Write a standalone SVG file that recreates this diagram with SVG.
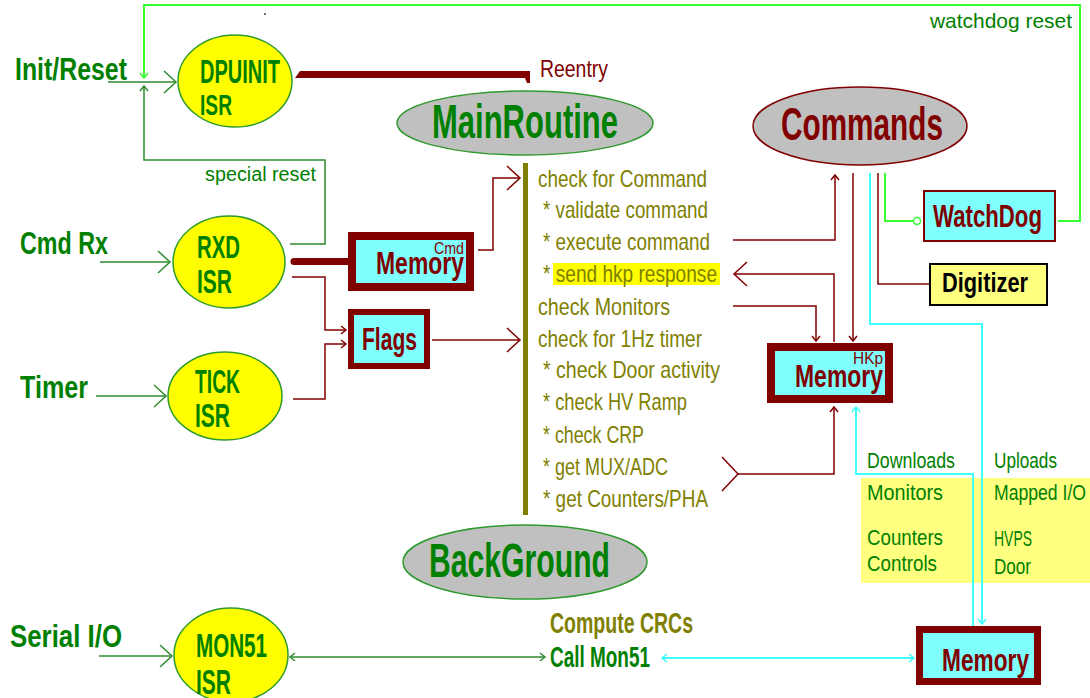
<svg xmlns="http://www.w3.org/2000/svg" width="1090" height="698" viewBox="0 0 1090 698">
  <style>
    text { font-family: "Liberation Sans Narrow", "Liberation Sans", Arial, sans-serif; }
    .b { font-weight: bold; }
    .g { fill: #008000; }
    .r { fill: #800000; }
    .o { fill: #808000; }
    .k { fill: #000000; }
    .isr { fill: #ffff00; stroke: #2e9a2e; stroke-width: 1.5; }
    .gray-g { fill: #c0c0c0; stroke: #2e9a2e; stroke-width: 1.5; }
    .gray-r { fill: #c0c0c0; stroke: #800000; stroke-width: 1.5; }
    .mem { fill: #80ffff; stroke: #800000; }
    .wg { fill: none; stroke: #2e8b2e; stroke-width: 1.5; }
    .wr { fill: none; stroke: #800000; stroke-width: 1.5; }
    .wc { fill: none; stroke: #40ffff; stroke-width: 2; }
    .wb { fill: none; stroke: #33ff33; stroke-width: 2; }
  </style>
  <defs>
    <marker id="bigG" markerUnits="userSpaceOnUse" viewBox="-14 -13 16 26" markerWidth="16" markerHeight="26" refX="0" refY="0" orient="auto">
      <path d="M-12,-11 L0,0 L-12,11" fill="none" stroke="#2e8b2e" stroke-width="1.5"/>
    </marker>
    <marker id="bigR" markerUnits="userSpaceOnUse" viewBox="-15 -14 17 28" markerWidth="17" markerHeight="28" refX="0" refY="0" orient="auto">
      <path d="M-13,-12 L0,0 L-13,12" fill="none" stroke="#800000" stroke-width="1.5"/>
    </marker>
    <marker id="smG" markerUnits="userSpaceOnUse" viewBox="-7 -6 9 12" markerWidth="9" markerHeight="12" refX="0" refY="0" orient="auto-start-reverse">
      <path d="M-5,-4 L0,0 L-5,4" fill="none" stroke="#2e8b2e" stroke-width="1.5"/>
    </marker>
    <marker id="smR" markerUnits="userSpaceOnUse" viewBox="-7 -6 9 12" markerWidth="9" markerHeight="12" refX="0" refY="0" orient="auto">
      <path d="M-5,-4 L0,0 L-5,4" fill="none" stroke="#800000" stroke-width="1.5"/>
    </marker>
    <marker id="smC" markerUnits="userSpaceOnUse" viewBox="-7 -6 9 12" markerWidth="9" markerHeight="12" refX="0" refY="0" orient="auto-start-reverse">
      <path d="M-5,-4 L0,0 L-5,4" fill="none" stroke="#40ffff" stroke-width="1.5"/>
    </marker>
    <marker id="smB" markerUnits="userSpaceOnUse" viewBox="-7 -6 9 12" markerWidth="9" markerHeight="12" refX="0" refY="0" orient="auto">
      <path d="M-5,-4 L0,0 L-5,4" fill="none" stroke="#33ff33" stroke-width="1.5"/>
    </marker>
    <marker id="ringB" markerUnits="userSpaceOnUse" viewBox="-1 -6 12 12" markerWidth="12" markerHeight="12" refX="0" refY="0" orient="auto">
      <circle cx="4" cy="0" r="3.5" fill="#ffffff" stroke="#33ff33" stroke-width="1.5"/>
    </marker>
  </defs>

  <rect width="1090" height="698" fill="#ffffff"/>

  <!-- shaded note areas -->
  <rect x="861" y="478" width="229" height="105" fill="#ffff80"/>
  <rect x="553" y="263" width="167" height="22" fill="#ffff00"/>
  <circle cx="265" cy="14" r="1" fill="#404040"/>

  <!-- connectors -->
  <g id="connectors">
    <line class="wg" x1="108" y1="82" x2="176" y2="82" marker-end="url(#bigG)"/>
    <polyline class="wb" points="1058,221 1080,221 1080,5 144,5 144,78" marker-end="url(#smB)"/>
    <polyline class="wg" points="290,244 325,244 325,160 144,160 144,86" marker-end="url(#smG)"/>
    <line class="wg" x1="100" y1="262" x2="170" y2="262" marker-end="url(#bigG)"/>
    <line class="wg" x1="96" y1="396" x2="166" y2="396" marker-end="url(#bigG)"/>
    <line class="wg" x1="99" y1="656" x2="172" y2="656" marker-end="url(#bigG)"/>
    <line class="wg" x1="290" y1="657" x2="545" y2="657" marker-start="url(#smG)" marker-end="url(#smG)"/>

    <path d="M300,71 H530 V83 H527 L525,78 H295 Z" fill="#800000"/>
    <line x1="294" y1="261.5" x2="350" y2="261.5" stroke="#800000" stroke-width="7" stroke-linecap="round"/>

    <polyline class="wr" points="292,277 325,277 325,330 346,330" marker-end="url(#smR)"/>
    <polyline class="wr" points="293,399 325,399 325,344 346,344" marker-end="url(#smR)"/>
    <polyline class="wr" points="478,250 493,250 493,178 520,178" marker-end="url(#bigR)"/>
    <line class="wr" x1="432" y1="340" x2="520" y2="340" marker-end="url(#bigR)"/>

    <polyline class="wr" points="733,240 835,240 835,175" marker-end="url(#smR)"/>
    <line class="wr" x1="853" y1="173" x2="853" y2="341" marker-end="url(#smR)"/>
    <polyline class="wr" points="834,342 834,274 734,274" marker-end="url(#bigR)"/>
    <polyline class="wr" points="733,306 816,306 816,341" marker-end="url(#smR)"/>
    <polyline class="wr" points="878,173 878,284 929,284"/>
    <polyline class="wb" points="885,173 885,221 913,221" marker-end="url(#ringB)"/>
    <polyline class="wr" points="722,457 738,474 722,491"/>
    <polyline class="wr" points="738,474 834,474 834,407" marker-end="url(#smR)"/>

    <polyline class="wc" points="870,173 870,324 982,324 982,624" marker-end="url(#smC)"/>
    <polyline class="wc" points="973,626 973,474 856,474 856,407" marker-end="url(#smC)"/>
    <line class="wc" x1="662" y1="658" x2="914" y2="658" marker-start="url(#smC)" marker-end="url(#smC)"/>

    <rect x="523" y="163" width="5" height="352" fill="#808000"/>
  </g>

  <!-- inputs -->
  <g id="inputs">
    <text class="b g" x="15" y="80" font-size="32" textLength="112" lengthAdjust="spacingAndGlyphs">Init/Reset</text>
    <text class="b g" x="20" y="254" font-size="32" textLength="88" lengthAdjust="spacingAndGlyphs">Cmd Rx</text>
    <text class="b g" x="20" y="398" font-size="32" textLength="68" lengthAdjust="spacingAndGlyphs">Timer</text>
    <text class="b g" x="10" y="647" font-size="32" textLength="112" lengthAdjust="spacingAndGlyphs">Serial I/O</text>
    <text class="g" x="205" y="181" font-size="20" textLength="111" lengthAdjust="spacingAndGlyphs">special reset</text>
    <text class="g" x="930" y="28" font-size="21" textLength="142" lengthAdjust="spacingAndGlyphs">watchdog reset</text>
  </g>

  <g id="dpuinit">
    <ellipse class="isr" cx="235" cy="81" rx="57" ry="46"/>
    <text class="b g" x="200" y="83" font-size="33" textLength="80" lengthAdjust="spacingAndGlyphs">DPUINIT</text>
    <text class="b g" x="200" y="115" font-size="30" textLength="32" lengthAdjust="spacingAndGlyphs">ISR</text>
  </g>
  <g id="rxd">
    <ellipse class="isr" cx="229" cy="262" rx="56" ry="46"/>
    <text class="b g" x="197" y="258" font-size="32" textLength="43" lengthAdjust="spacingAndGlyphs">RXD</text>
    <text class="b g" x="197" y="293" font-size="34" textLength="35" lengthAdjust="spacingAndGlyphs">ISR</text>
  </g>
  <g id="tick">
    <ellipse class="isr" cx="225" cy="396" rx="57" ry="44"/>
    <text class="b g" x="195" y="393" font-size="34" textLength="45" lengthAdjust="spacingAndGlyphs">TICK</text>
    <text class="b g" x="195" y="427" font-size="33" textLength="35" lengthAdjust="spacingAndGlyphs">ISR</text>
  </g>
  <g id="mon51">
    <ellipse class="isr" cx="231" cy="655" rx="57" ry="47"/>
    <text class="b g" x="196" y="657" font-size="34" textLength="71" lengthAdjust="spacingAndGlyphs">MON51</text>
    <text class="b g" x="196" y="694" font-size="35" textLength="35" lengthAdjust="spacingAndGlyphs">ISR</text>
  </g>

  <g id="reentry">
    <text class="r" x="540" y="77" font-size="24" textLength="68" lengthAdjust="spacingAndGlyphs">Reentry</text>
  </g>

  <g id="main-routine">
    <ellipse class="gray-g" cx="525" cy="123" rx="128" ry="32"/>
    <text class="b g" x="432" y="138" font-size="48" textLength="186" lengthAdjust="spacingAndGlyphs">MainRoutine</text>
  </g>

  <g id="commands">
    <ellipse class="gray-r" cx="860" cy="126" rx="107" ry="39"/>
    <text class="b r" x="781" y="140" font-size="46" textLength="162" lengthAdjust="spacingAndGlyphs">Commands</text>
  </g>

  <g id="background">
    <ellipse class="gray-g" cx="525" cy="562" rx="122" ry="37"/>
    <text class="b g" x="429" y="577" font-size="48" textLength="181" lengthAdjust="spacingAndGlyphs">BackGround</text>
  </g>

  <g id="main-loop" class="o" font-size="24">
    <text x="538" y="187" textLength="169" lengthAdjust="spacingAndGlyphs">check for Command</text>
    <text x="543" y="218" textLength="165" lengthAdjust="spacingAndGlyphs">* validate command</text>
    <text x="543" y="250" textLength="167" lengthAdjust="spacingAndGlyphs">* execute command</text>
    <text x="543" y="282" textLength="174" lengthAdjust="spacingAndGlyphs">* send hkp response</text>
    <text x="538" y="315" textLength="132" lengthAdjust="spacingAndGlyphs">check Monitors</text>
    <text x="538" y="347" textLength="164" lengthAdjust="spacingAndGlyphs">check for 1Hz timer</text>
    <text x="543" y="378" textLength="177" lengthAdjust="spacingAndGlyphs">* check Door activity</text>
    <text x="543" y="410" textLength="144" lengthAdjust="spacingAndGlyphs">* check HV Ramp</text>
    <text x="543" y="443" textLength="101" lengthAdjust="spacingAndGlyphs">* check CRP</text>
    <text x="543" y="475" textLength="125" lengthAdjust="spacingAndGlyphs">* get MUX/ADC</text>
    <text x="543" y="507" textLength="165" lengthAdjust="spacingAndGlyphs">* get Counters/PHA</text>
  </g>

  <g id="cmd-memory">
    <rect class="mem" x="352" y="236" width="118" height="51" stroke-width="8"/>
    <text class="b r" x="376" y="274" font-size="32" textLength="88" lengthAdjust="spacingAndGlyphs">Memory</text>
    <text class="r" x="434" y="254" font-size="17" textLength="30" lengthAdjust="spacingAndGlyphs">Cmd</text>
  </g>

  <g id="flags">
    <rect class="mem" x="351" y="312" width="76" height="54" stroke-width="6"/>
    <text class="b r" x="362" y="350" font-size="32" textLength="55" lengthAdjust="spacingAndGlyphs">Flags</text>
  </g>

  <g id="hkp-memory">
    <rect class="mem" x="771" y="347" width="118" height="52" stroke-width="8"/>
    <text class="b r" x="795" y="387" font-size="32" textLength="88" lengthAdjust="spacingAndGlyphs">Memory</text>
    <text class="r" x="853" y="364" font-size="17" textLength="30" lengthAdjust="spacingAndGlyphs">HKp</text>
  </g>

  <g id="watchdog">
    <rect x="924" y="191" width="131" height="50" fill="#80ffff" stroke="#800000" stroke-width="2"/>
    <text class="b r" x="933" y="227" font-size="32" textLength="109" lengthAdjust="spacingAndGlyphs">WatchDog</text>
  </g>

  <g id="digitizer">
    <rect x="930" y="264" width="117" height="41" fill="#ffff80" stroke="#000000" stroke-width="2"/>
    <text class="b k" x="942" y="292" font-size="28" textLength="86" lengthAdjust="spacingAndGlyphs">Digitizer</text>
  </g>

  <g id="io-lists" class="g" font-size="22">
    <text x="867" y="468" textLength="88" lengthAdjust="spacingAndGlyphs">Downloads</text>
    <text x="867" y="500" textLength="76" lengthAdjust="spacingAndGlyphs">Monitors</text>
    <text x="867" y="545" textLength="76" lengthAdjust="spacingAndGlyphs">Counters</text>
    <text x="867" y="571" textLength="70" lengthAdjust="spacingAndGlyphs">Controls</text>
    <text x="994" y="468" textLength="63" lengthAdjust="spacingAndGlyphs">Uploads</text>
    <text x="994" y="500" textLength="92" lengthAdjust="spacingAndGlyphs">Mapped I/O</text>
    <text x="994" y="546" textLength="38" lengthAdjust="spacingAndGlyphs">HVPS</text>
    <text x="994" y="574" textLength="37" lengthAdjust="spacingAndGlyphs">Door</text>
  </g>

  <g id="crc">
    <text class="b o" x="550" y="633" font-size="29" textLength="143" lengthAdjust="spacingAndGlyphs">Compute CRCs</text>
    <text class="b g" x="550" y="667" font-size="29" textLength="100" lengthAdjust="spacingAndGlyphs">Call Mon51</text>
  </g>

  <g id="memory">
    <rect class="mem" x="919.5" y="629.5" width="118" height="52" stroke-width="7"/>
    <text class="b r" x="942" y="671" font-size="32" textLength="87" lengthAdjust="spacingAndGlyphs">Memory</text>
  </g>
</svg>
